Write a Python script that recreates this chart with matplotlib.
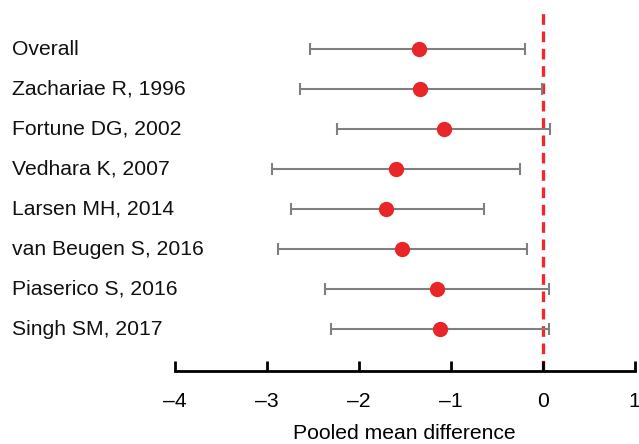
import matplotlib.pyplot as plt
import matplotlib.transforms as mtransforms

plt.rcParams['font.family'] = ['Liberation Sans', 'DejaVu Sans']

studies = ["Overall", "Zachariae R, 1996", "Fortune DG, 2002", "Vedhara K, 2007",
           "Larsen MH, 2014", "van Beugen S, 2016", "Piaserico S, 2016", "Singh SM, 2017"]
mean_diff = [-1.35, -1.33, -1.07, -1.60, -1.70, -1.53, -1.15, -1.12]
ci_low = [-2.53, -2.64, -2.24, -2.94, -2.74, -2.88, -2.37, -2.30]
ci_high = [-0.19, -0.01, 0.08, -0.25, -0.64, -0.17, 0.07, 0.07]
xticks = [-4, -3, -2, -1, 0, 1]
xtick_labels = ["\u20134", "\u20133", "\u20132", "\u20131", "0", "1"]


def main():
    fig = plt.figure(figsize=(6.39, 4.44), dpi=100)
    ax = fig.add_axes([0.274, 0.164, 0.719, 0.809])

    rows = list(range(len(studies)))
    err_lo = [m - l for m, l in zip(mean_diff, ci_low)]
    err_hi = [h - m for m, h in zip(mean_diff, ci_high)]

    ax.axvline(0, color="#ee2a2e", lw=2.4, ls=(0, (3.2, 2.0)), zorder=1)
    ax.errorbar(mean_diff, rows, xerr=[err_lo, err_hi], fmt="none",
                ecolor="#7f7f7f", elinewidth=1.5, capsize=4, capthick=1.5, zorder=2)
    ax.plot(mean_diff, rows, "o", color="#e8262a", ms=10, mec="#e8262a", zorder=3)

    trans = mtransforms.blended_transform_factory(fig.transFigure, ax.transData)
    for i, name in enumerate(studies):
        ax.text(12 / 639, i, name, transform=trans, ha="left", va="center",
                fontsize=15.2, color="#111111")

    ax.set_xlim(-4, 1)
    ax.set_ylim(8.05, -0.925)
    ax.set_xticks(xticks)
    ax.set_xticklabels(xtick_labels, fontsize=15.2)
    ax.set_yticks([])
    for side in ["top", "right", "left"]:
        ax.spines[side].set_visible(False)
    ax.spines["bottom"].set_linewidth(2)
    ax.tick_params(axis="x", direction="in", length=7, width=2, pad=15)
    ax.set_xlabel("Pooled mean difference", fontsize=15.2, labelpad=9)

    fig.savefig("out.png", dpi=100)


if __name__ == "__main__":
    main()
